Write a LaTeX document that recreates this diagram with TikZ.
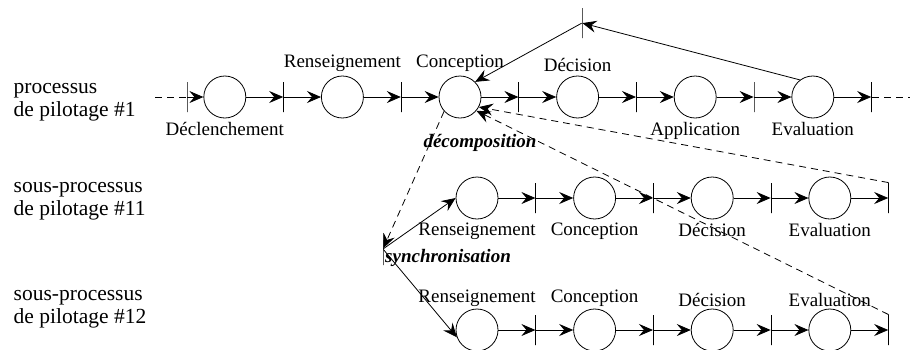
\documentclass[tikz,border=0pt]{standalone}
\usepackage{fontspec}
\setmainfont{Liberation Serif}
\usetikzlibrary{arrows.meta}
\usetikzlibrary{positioning}
\tikzset{>={Stealth[length=14pt,width=12pt,inset=5pt]}}
\tikzset{
    etape/.style={draw, circle, minimum size=42pt, inner sep=0pt},
    borne/.style={draw, inner sep=0pt, minimum width=0pt, minimum height=30pt},
    tiret/.style={dash pattern=on 7pt off 5pt},
    proc/.style={font=\fontsize{21.5}{23}\selectfont, align=left, anchor=west},
    mode/.style={font=\fontsize{19}{22}\selectfont\bfseries\itshape},
}

\begin{document}
\begin{tikzpicture}[x=1pt, y=-1pt, node distance=37pt, line width=0.8pt,
        every label/.style={font=\fontsize{19}{22}\selectfont}]
            \useasboundingbox (0,0) rectangle (910,349);
            % processus de pilotage #1
            \node [proc] (p1) at (10,102) {processus\\de pilotage \#1};
            \coordinate (debut) at (155,97);
            \node [borne] (b0) at (187,97) {};
            \node [etape, right=16pt of b0, label=below:{Déclenchement}] (decl) {};
            \node [borne, right=of decl] (b1) {};
            \node [etape, right=of b1, label=above:{Renseignement}] (rens) {};
            \node [borne, right=of rens] (b2) {};
            \node [etape, right=of b2, label=above:{Conception}] (conc) {};
            \node [borne, right=of conc] (b3) {};
            \node [etape, right=of b3, label=above:{Décision}] (deci) {};
            \node [borne, right=of deci] (b4) {};
            \node [etape, right=of b4, label=below:{Application}] (appl) {};
            \node [borne, right=of appl] (b5) {};
            \node [etape, right=of b5, label=below:{Evaluation}] (eval) {};
            \node [borne, right=of eval] (b6) {};
            \coordinate (fin) at (910,97);
            \draw [tiret] (debut)--(b0);
            \draw [->] (b0)--(decl);
            \draw [->] (decl)--(b1);
            \draw [->] (b1)--(rens);
            \draw [->] (rens)--(b2);
            \draw [->] (b2)--(conc);
            \draw [->] (conc)--(b3);
            \draw [->] (b3)--(deci);
            \draw [->] (deci)--(b4);
            \draw [->] (b4)--(appl);
            \draw [->] (appl)--(b5);
            \draw [->] (b5)--(eval);
            \draw [->] (eval)--(b6);
            \draw [tiret] (b6)--(fin);
            % retour vers la conception
            \node [borne] (retour) at (582,23) {};
            \draw [->] (eval.127)--(retour);
            \draw [->] (retour)--(conc.45);
            % sous-processus de pilotage #11
            \node [proc] (p11) at (10,201) {sous-processus\\de pilotage \#11};
            \node [etape, label=below:{Renseignement}] (rensA) at (477,198) {};
            \node [borne, right=of rensA] (bA1) {};
            \node [etape, right=of bA1, label=below:{Conception}] (concA) {};
            \node [borne, right=of concA] (bA2) {};
            \node [etape, right=of bA2, label=below:{Décision}] (deciA) {};
            \node [borne, right=of deciA] (bA3) {};
            \node [etape, right=of bA3, label=below:{Evaluation}] (evalA) {};
            \node [borne, right=of evalA] (bA4) {};
            \draw [->] (rensA)--(bA1);
            \draw [->] (bA1)--(concA);
            \draw [->] (concA)--(bA2);
            \draw [->] (bA2)--(deciA);
            \draw [->] (deciA)--(bA3);
            \draw [->] (bA3)--(evalA);
            \draw [->] (evalA)--(bA4);
            % sous-processus de pilotage #12
            \node [proc] (p12) at (10,309) {sous-processus\\de pilotage \#12};
            \node [etape, label={[label distance=-2pt]above:{Renseignement}}] (rensB) at (477,330) {};
            \node [borne, right=of rensB] (bB1) {};
            \node [etape, right=of bB1, label={[label distance=-2pt]above:{Conception}}] (concB) {};
            \node [borne, right=of concB] (bB2) {};
            \node [etape, right=of bB2, label={[label distance=-2pt]above:{Décision}}] (deciB) {};
            \node [borne, right=of deciB] (bB3) {};
            \node [etape, right=of bB3, label={[label distance=-2pt]above:{Evaluation}}] (evalB) {};
            \node [borne, right=of evalB] (bB4) {};
            \draw [->] (rensB)--(bB1);
            \draw [->] (bB1)--(concB);
            \draw [->] (concB)--(bB2);
            \draw [->] (bB2)--(deciB);
            \draw [->] (deciB)--(bB3);
            \draw [->] (bB3)--(evalB);
            \draw [->] (evalB)--(bB4);
            % decomposition et synchronisation
            \node [borne, minimum height=32pt] (sync) at (383,249) {};
            \node [mode] (decomp) at (480,143) {décomposition};
            \node [mode] (synchro) at (448,258) {synchronisation};
            \draw [->, tiret] (conc.222)--(sync);
            \draw [->] (sync)--(rensA.west);
            \draw [->] (sync)--(rensB.200);
            \draw [->, tiret] (bA4.north)--(conc.-28);
            \draw [->, tiret] (bB4.north)--(conc.-40);
        \end{tikzpicture}
\end{document}
